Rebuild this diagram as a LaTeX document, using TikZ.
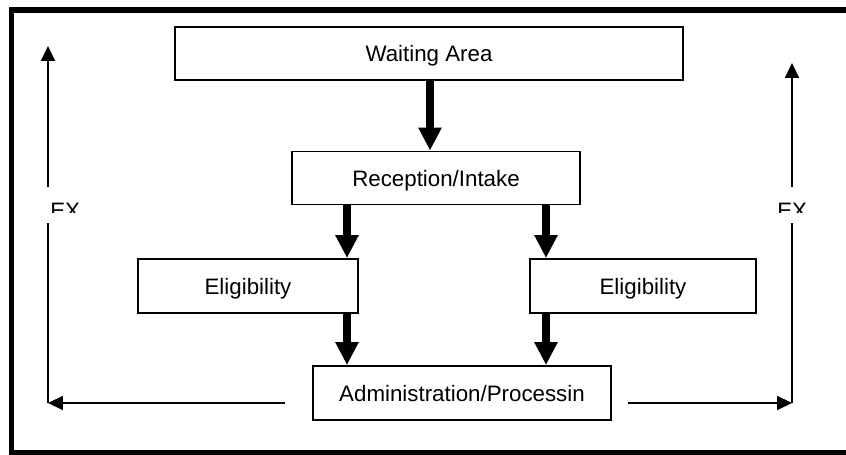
\documentclass[tikz,border=0pt]{standalone}
\usepackage{fontspec}
\setmainfont{Liberation Sans}
\usetikzlibrary{positioning,arrows.meta}

\begin{document}
\begin{tikzpicture}[x=0.02cm, y=-0.02cm, every node/.style={font=\fontsize{12.7}{15}\selectfont},
    bx/.style={draw, line width=1.1pt, inner sep=0pt, text depth=0pt, minimum height=1.06cm},
    flow/.style={line width=4pt, -{Triangle[width=0.44cm, length=0.46cm]}},
    side/.style={line width=1.2pt},
    sidearr/.style={side, -{Triangle[width=0.28cm, length=0.3cm]}}]
\clip (0,0) rectangle (846,455);
% frame
\draw[line width=3.4pt] (11.5,10) rectangle (880,452.5);
% boxes
\node[bx, minimum width=10.16cm] (wait) at (429,53.5) {Waiting Area};
\node[bx, minimum width=5.76cm] (rec) at (436,178) {Reception/Intake};
\node[bx, minimum width=4.4cm, minimum height=1.08cm] (eligL) at (248,286) {Eligibility};
\node[bx, minimum width=4.52cm, minimum height=1.08cm] (eligR) at (643,286) {Eligibility};
\node[bx, minimum width=5.96cm, minimum height=1.08cm] (adm) at (462,393) {Administration/Processin};
% flow columns
\coordinate (cM) at (430,0);
\coordinate (cL) at (347,0);
\coordinate (cR) at (546,0);
\draw[flow] (wait.south -| cM) -- (rec.north -| cM);
\draw[flow] (rec.south -| cL) -- (eligL.north -| cL);
\draw[flow] (rec.south -| cR) -- (eligR.north -| cR);
\draw[flow] (eligL.south -| cL) -- (adm.north -| cL);
\draw[flow] (eligR.south -| cR) -- (adm.north -| cR);
% left loop
\coordinate (lS) at (285,403);
\coordinate (lC) at (48,403);
\coordinate (lB) at (48,223);
\coordinate (lT) at (48,187);
\coordinate (lE) at (48,46);
\draw[sidearr] (lS) -- (lC);
\draw[side] (lC) -- (lB);
\draw[sidearr] (lT) -- (lE);
% right loop
\coordinate (rS) at (628,403);
\coordinate (rC) at (792,403);
\coordinate (rB) at (792,223);
\coordinate (rT) at (792,187);
\coordinate (rE) at (792,63);
\draw[sidearr] (rS) -- (rC);
\draw[side] (rC) -- (rB);
\draw[sidearr] (rT) -- (rE);
% cut labels
\begin{scope}
\clip (30,190) rectangle (820,213);
\node[anchor=base west, inner sep=0pt] (exL) at (50,219) {EX};
\node[anchor=base west, inner sep=0pt] (exR) at (777,219) {EX};
\end{scope}
\end{tikzpicture}
\end{document}
